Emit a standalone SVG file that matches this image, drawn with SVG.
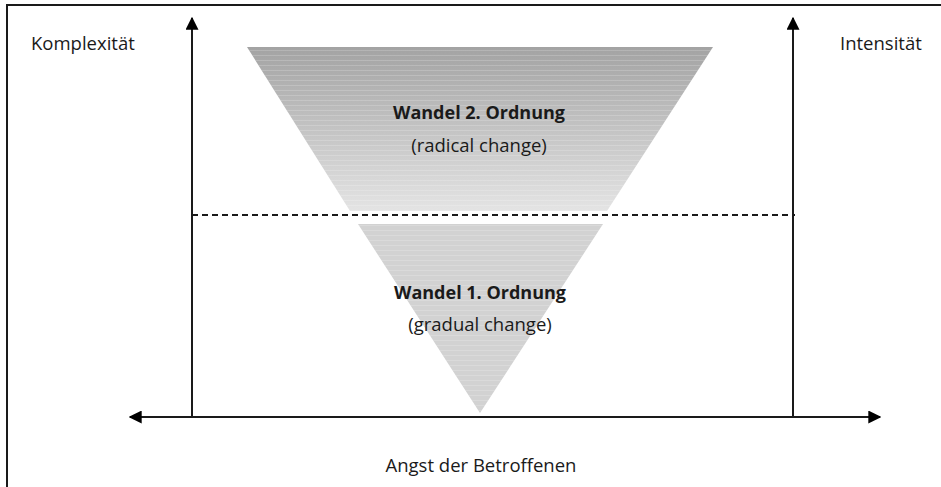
<svg xmlns="http://www.w3.org/2000/svg" width="941" height="487" viewBox="0 0 941 487">
  <style>
    text { font-family: "Open Sans", "Noto Sans", "Liberation Sans", sans-serif; fill: #1a1a1a; }
    .lbl { font-size: 18.5px; }
    .title { font-size: 18px; font-weight: bold; }
    .axis { stroke: #1a1a1a; stroke-width: 2; fill: none; }
  </style>
  <defs>
    <marker id="arrow" viewBox="0 0 10 10" refX="9" refY="5" markerWidth="6.5" markerHeight="6.5" markerUnits="strokeWidth" orient="auto-start-reverse">
      <path d="M0,0 L10,5 L0,10 z" fill="#000"/>
    </marker>
    <linearGradient id="upperFill" x1="0" y1="0" x2="0" y2="1">
      <stop offset="0" stop-color="#a3a3a3"/>
      <stop offset="1" stop-color="#e4e4e4"/>
    </linearGradient>
    <pattern id="bands" width="6" height="5" patternUnits="userSpaceOnUse">
      <rect x="0" y="0" width="6" height="1" fill="#ffffff" fill-opacity="0.18"/>
    </pattern>
  </defs>

  <!-- frame -->
  <rect x="7" y="5" width="960" height="500" fill="none" stroke="#1a1a1a" stroke-width="2"/>

  <!-- upper part of the funnel -->
  <g id="wandel2">
    <polygon points="247,47 713,47 607,211 350,211" fill="url(#upperFill)"/>
    <polygon points="247,47 713,47 607,211 350,211" fill="url(#bands)"/>
    <text class="title" x="479" y="119" text-anchor="middle">Wandel 2. Ordnung</text>
    <text class="lbl" x="479" y="152" text-anchor="middle">(radical change)</text>
  </g>

  <!-- lower part of the funnel -->
  <g id="wandel1">
    <polygon points="358,224 603,224 480,413" fill="#d2d2d2"/>
    <polygon points="358,224 603,224 480,413" fill="url(#bands)"/>
    <text class="title" x="480" y="299" text-anchor="middle">Wandel 1. Ordnung</text>
    <text class="lbl" x="480" y="331" text-anchor="middle">(gradual change)</text>
  </g>

  <!-- axes and divider -->
  <g id="connectors">
    <line class="axis" x1="192" y1="417" x2="192" y2="18" marker-end="url(#arrow)"/>
    <line class="axis" x1="793" y1="417" x2="793" y2="18" marker-end="url(#arrow)"/>
    <line class="axis" x1="130" y1="417" x2="880" y2="417" marker-start="url(#arrow)" marker-end="url(#arrow)"/>
    <line x1="192" y1="215" x2="795" y2="215" stroke="#1a1a1a" stroke-width="2" stroke-dasharray="6,4"/>
  </g>

  <g id="labels">
    <text class="lbl" x="31" y="50">Komplexität</text>
    <text class="lbl" x="840" y="50">Intensität</text>
    <text class="lbl" x="481" y="472" text-anchor="middle">Angst der Betroffenen</text>
  </g>
</svg>
